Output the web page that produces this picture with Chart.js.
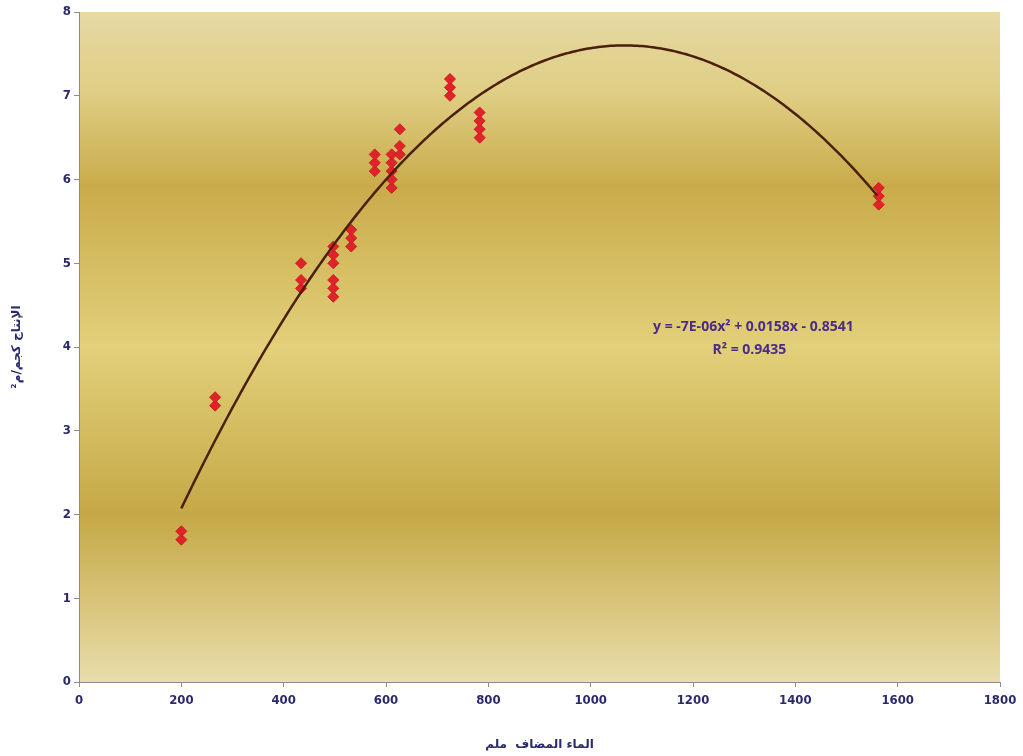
<!DOCTYPE html>
<html>
<head>
<meta charset="utf-8">
<script src="https://cdn.jsdelivr.net/npm/chart.js@4/dist/chart.umd.min.js"></script>
<style>
  body { margin: 0; background: #ffffff; }
  #wrap { width: 1023px; height: 756px; }
</style>
</head>
<body>
<div id="wrap"><canvas id="waterChart" width="1023" height="756"></canvas></div>
<script>
// ======================
// DATA
// ======================

const waterAdded = [
    200, 200,
    266, 266,
    434, 434, 434,
    497, 497, 497, 497, 497, 497,
    532, 532, 532,
    578, 578, 578,
    611, 611, 611, 611, 611,
    627, 627, 627,
    725, 725, 725,
    783, 783, 783, 783,
    1563, 1563, 1563
];

const yieldValues = [
    1.7, 1.8,
    3.3, 3.4,
    4.7, 4.8, 5.0,
    4.6, 4.7, 4.8, 5.0, 5.1, 5.2,
    5.2, 5.3, 5.4,
    6.1, 6.2, 6.3,
    5.9, 6.0, 6.1, 6.2, 6.3,
    6.3, 6.4, 6.6,
    7.0, 7.1, 7.2,
    6.5, 6.6, 6.7, 6.8,
    5.7, 5.8, 5.9
];

const xTicks = [0, 200, 400, 600, 800, 1000, 1200, 1400, 1600, 1800];
const yTicks = [0, 1, 2, 3, 4, 5, 6, 7, 8];

const xTitle = "الماء المضاف  ملم";
const yTitle = "الإنتاج كجم/م²";
const equationLines = ["y = -7E-06x² + 0.0158x - 0.8541", "R² = 0.9435"];


// ======================
// POLYNOMIAL TRENDLINE (least squares, order 2)
// ======================

function quadFit(xs, ys) {

    let s = [0, 0, 0, 0, 0];
    let t = [0, 0, 0];

    for (let i = 0; i < xs.length; i++) {
        let p = 1;
        for (let k = 0; k < 5; k++) {
            s[k] += p;
            if (k < 3) t[k] += p * ys[i];
            p *= xs[i];
        }
    }

    // solve [s0 s1 s2; s1 s2 s3; s2 s3 s4] * [c b a] = t
    const m = [
        [s[0], s[1], s[2], t[0]],
        [s[1], s[2], s[3], t[1]],
        [s[2], s[3], s[4], t[2]]
    ];

    for (let i = 0; i < 3; i++) {
        for (let j = i + 1; j < 3; j++) {
            const f = m[j][i] / m[i][i];
            for (let k = i; k < 4; k++) m[j][k] -= f * m[i][k];
        }
    }

    const r = [0, 0, 0];
    for (let i = 2; i >= 0; i--) {
        let v = m[i][3];
        for (let k = i + 1; k < 3; k++) v -= m[i][k] * r[k];
        r[i] = v / m[i][i];
    }

    return { c: r[0], b: r[1], a: r[2] };
}

const fit = quadFit(waterAdded, yieldValues);

const xMinData = Math.min(...waterAdded);
const xMaxData = Math.max(...waterAdded);

const trendPoints = [];
for (let x = xMinData; x <= xMaxData; x += 5) {
    trendPoints.push({ x: x, y: fit.a * x * x + fit.b * x + fit.c });
}


// ======================
// PLUGINS
// ======================

const bandBackground = {
    id: "bandBackground",
    beforeDraw(chart) {
        const { ctx, chartArea } = chart;
        const g = ctx.createLinearGradient(0, chartArea.top, 0, chartArea.bottom);
        g.addColorStop(0.00, "rgb(230,217,163)");
        g.addColorStop(0.12, "rgb(223,206,132)");
        g.addColorStop(0.26, "rgb(201,171,74)");
        g.addColorStop(0.50, "rgb(226,208,122)");
        g.addColorStop(0.75, "rgb(197,168,70)");
        g.addColorStop(1.00, "rgb(233,222,170)");
        ctx.save();
        ctx.fillStyle = g;
        ctx.fillRect(chartArea.left, chartArea.top,
            chartArea.right - chartArea.left, chartArea.bottom - chartArea.top);
        ctx.restore();
    }
};

const equationLabel = {
    id: "equationLabel",
    afterDatasetsDraw(chart) {
        const { ctx, scales } = chart;
        const cx = scales.x.getPixelForValue(1318);
        const cy = scales.y.getPixelForValue(4.24);
        ctx.save();
        ctx.fillStyle = "#4b2a8c";
        ctx.font = "bold 14px 'Open Sans'";
        ctx.textAlign = "center";
        ctx.textBaseline = "middle";
        ctx.fillText(equationLines[0], cx, cy);
        ctx.fillText(equationLines[1], cx - 4, cy + 23);
        ctx.restore();
    }
};


// ======================
// CHART
// ======================

const navy = "#29296e";

new Chart(
    document.getElementById("waterChart"),
    {
        type: "scatter",

        data: {
            datasets: [
                {
                    label: "trend",
                    data: trendPoints,
                    showLine: true,
                    pointRadius: 0,
                    borderColor: "#4a1f0c",
                    borderWidth: 2.5,
                    tension: 0
                },
                {
                    label: "yield",
                    data: waterAdded.map((x, i) => ({ x: x, y: yieldValues[i] })),
                    pointStyle: "rectRot",
                    pointRadius: 5.5,
                    backgroundColor: "#e0232b",
                    borderColor: "#d01c22",
                    borderWidth: 1
                }
            ]
        },

        options: {
            responsive: false,
            animation: false,
            layout: { padding: { top: 12, right: 23, left: 0, bottom: 0 } },
            plugins: {
                legend: { display: false },
                tooltip: { enabled: false }
            },
            scales: {
                x: {
                    type: "linear",
                    min: 0,
                    max: 1800,
                    afterBuildTicks: s => { s.ticks = xTicks.map(v => ({ value: v })); },
                    afterFit: s => { s.height = 74; },
                    grid: {
                        drawOnChartArea: false,
                        drawTicks: true,
                        tickLength: 5,
                        color: "#8c8c8c"
                    },
                    border: { color: "#8c8c8c", width: 1 },
                    ticks: {
                        color: navy,
                        padding: 6,
                        callback: v => String(v),
                        font: { family: "'DejaVu Sans Condensed'", size: 13, weight: "bold" }
                    },
                    title: {
                        display: true,
                        text: xTitle,
                        color: navy,
                        padding: { top: 4, bottom: 4 },
                        font: { family: "'DejaVu Sans'", size: 12, weight: "bold" }
                    }
                },
                y: {
                    min: 0,
                    max: 8,
                    afterBuildTicks: s => { s.ticks = yTicks.map(v => ({ value: v })); },
                    afterFit: s => { s.width = 79; },
                    grid: {
                        drawOnChartArea: false,
                        drawTicks: true,
                        tickLength: 5,
                        color: "#8c8c8c"
                    },
                    border: { color: "#8c8c8c", width: 1 },
                    ticks: {
                        color: navy,
                        padding: 3,
                        callback: v => String(v),
                        font: { family: "'DejaVu Sans Condensed'", size: 13, weight: "bold" }
                    },
                    title: {
                        display: true,
                        text: yTitle,
                        color: navy,
                        padding: { top: 10, bottom: 4 },
                        font: { family: "'DejaVu Sans'", size: 12, weight: "bold" }
                    }
                }
            }
        },

        plugins: [bandBackground, equationLabel]
    }
);
</script>
</body>
</html>
